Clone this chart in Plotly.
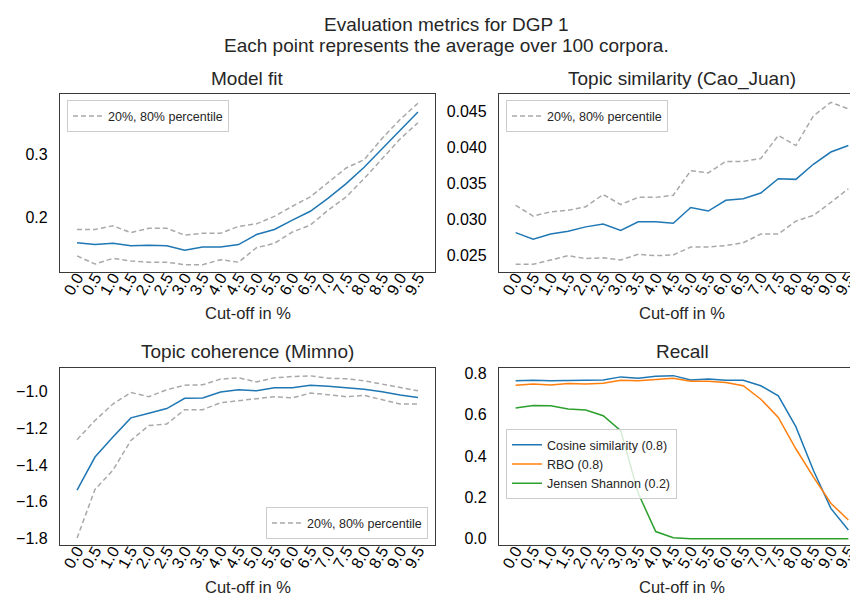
import plotly.graph_objects as go

cutoffs = ["0.0","0.5","1.0","1.5","2.0","2.5","3.0","3.5","4.0","4.5",
           "5.0","5.5","6.0","6.5","7.0","7.5","8.0","8.5","9.0","9.5"]

fit_mean = [0.159,0.156,0.158,0.154,0.155,0.154,0.147,0.152,0.152,0.156,
            0.172,0.180,0.195,0.209,0.230,0.253,0.279,0.308,0.338,0.367]
fit_p80 = [0.180,0.180,0.186,0.175,0.182,0.182,0.171,0.174,0.174,0.185,
           0.189,0.201,0.217,0.232,0.255,0.278,0.291,0.325,0.355,0.381]
fit_p20 = [0.138,0.125,0.134,0.130,0.128,0.128,0.124,0.124,0.132,0.128,
           0.151,0.158,0.176,0.187,0.211,0.232,0.261,0.292,0.324,0.350]

sim_mean = [0.0281,0.0272,0.0279,0.0283,0.0289,0.0293,0.0284,0.0296,0.0296,0.0294,
            0.0316,0.0311,0.0326,0.0328,0.0336,0.0356,0.0355,0.0376,0.0393,0.0402]
sim_p80 = [0.0319,0.0304,0.0310,0.0312,0.0317,0.0334,0.0320,0.0330,0.0330,0.0333,
           0.0367,0.0364,0.0380,0.0380,0.0384,0.0416,0.0402,0.0443,0.0462,0.0453]
sim_p20 = [0.0237,0.0237,0.0243,0.0249,0.0245,0.0246,0.0243,0.0251,0.0249,0.0250,
           0.0261,0.0261,0.0263,0.0267,0.0279,0.0279,0.0297,0.0305,0.0323,0.0342]

coh_mean = [-1.538,-1.357,-1.248,-1.143,-1.118,-1.092,-1.036,-1.034,-1.002,-0.989,
            -0.995,-0.978,-0.978,-0.964,-0.970,-0.978,-0.986,-1.000,-1.018,-1.031]
coh_p80 = [-1.262,-1.157,-1.067,-1.004,-1.027,-0.989,-0.964,-0.962,-0.931,-0.924,
           -0.946,-0.924,-0.917,-0.913,-0.926,-0.929,-0.940,-0.958,-0.976,-0.995]
coh_p20 = [-1.800,-1.534,-1.429,-1.266,-1.185,-1.176,-1.098,-1.098,-1.060,-1.049,
           -1.040,-1.027,-1.034,-1.007,-1.016,-1.027,-1.020,-1.045,-1.067,-1.067]

rec_cos = [0.765,0.768,0.765,0.768,0.768,0.769,0.784,0.777,0.787,0.790,
           0.769,0.774,0.768,0.768,0.741,0.692,0.543,0.332,0.147,0.043]
rec_rbo = [0.744,0.750,0.745,0.752,0.749,0.753,0.768,0.765,0.771,0.777,
           0.763,0.763,0.757,0.741,0.676,0.588,0.436,0.300,0.172,0.091]
rec_js = [0.633,0.646,0.644,0.628,0.624,0.596,0.524,0.220,0.035,0.005,
          0.0,0.0,0.0,0.0,0.0,0.0,0.0,0.0,0.0,0.0]

idx = list(range(len(cutoffs)))
BLUE, ORANGE, GREEN, GREY = "#1f77b4", "#ff7f0e", "#2ca02c", "#a9a9a9"
FONT = "Liberation Sans, Arial, sans-serif"
TXT = "#262626"

fig = go.Figure()

def add(y, ax, color, dash="solid", name=None, legend=None, show=False):
    fig.add_trace(go.Scatter(
        x=idx, y=y, mode="lines", xaxis="x" + ax, yaxis="y" + ax,
        line=dict(color=color, width=1.5, dash=("5px,3px" if dash == "dash" else "solid")),
        name=name or "", showlegend=show, legend=legend, hoverinfo="skip"))

# subplot 1
add(fit_mean, "", BLUE)
add(fit_p20, "", GREY, "dash", "20%, 80% percentile", "legend", True)
add(fit_p80, "", GREY, "dash")
# subplot 2
add(sim_mean, "2", BLUE)
add(sim_p20, "2", GREY, "dash", "20%, 80% percentile", "legend2", True)
add(sim_p80, "2", GREY, "dash")
# subplot 3
add(coh_mean, "3", BLUE)
add(coh_p20, "3", GREY, "dash", "20%, 80% percentile", "legend3", True)
add(coh_p80, "3", GREY, "dash")
# subplot 4
add(rec_cos, "4", BLUE, name="Cosine similarity (0.8)", legend="legend4", show=True)
add(rec_rbo, "4", ORANGE, name="RBO (0.8)", legend="legend4", show=True)
add(rec_js, "4", GREEN, name="Jensen Shannon (0.2)", legend="legend4", show=True)

W, H = 858, 599
def dx(a, b): return [a / W, b / W]
def dy(top, bot): return [1 - bot / H, 1 - top / H]

xdom = {"": dx(52, 427), "2": dx(491, 857), "3": dx(52, 427), "4": dx(491, 857)}
ydom = {"": dy(85, 264), "2": dy(85, 264), "3": dy(360, 539), "4": dy(360, 539)}
yranges = {"": [0.112, 0.395], "2": [0.0226, 0.0473], "3": [-1.840, -0.868], "4": [-0.032, 0.829]}
ytick = {"": dict(tickvals=[0.2, 0.3], ticktext=["0.2", "0.3"]),
         "2": dict(tickvals=[0.025, 0.03, 0.035, 0.04, 0.045],
                   ticktext=["0.025", "0.030", "0.035", "0.040", "0.045"]),
         "3": dict(tickvals=[-1.8, -1.6, -1.4, -1.2, -1.0],
                   ticktext=["\u22121.8", "\u22121.6", "\u22121.4", "\u22121.2", "\u22121.0"]),
         "4": dict(tickvals=[0, 0.2, 0.4, 0.6, 0.8], ticktext=["0.0", "0.2", "0.4", "0.6", "0.8"])}

TICKF = dict(family=FONT, size=16, color="black")
axstyle = dict(showline=True, mirror=True, linecolor="#3a3a3a", linewidth=1.25,
               showgrid=False, zeroline=False, ticks="", tickfont=TICKF)
lay = {}
label_ax = {"": "5", "2": "6", "3": "7", "4": "8"}
for ax in ["", "2", "3", "4"]:
    lay["xaxis" + ax] = dict(axstyle, domain=xdom[ax], anchor="y" + ax,
                             range=[-0.95, 19.95], tickvals=idx, showticklabels=False)
    lay["yaxis" + ax] = dict(axstyle, domain=ydom[ax], anchor="x" + ax,
                             range=yranges[ax], ticklabelstandoff=8, **ytick[ax])
    # tick-label axis drawn slightly closer to the frame
    lab = label_ax[ax]
    lay["xaxis" + lab] = dict(
        overlaying="x" + ax, anchor="free", position=ydom[ax][0] + 8 / H,
        range=[-0.95, 19.95], tickvals=idx, ticktext=cutoffs, tickangle=-60,
        showline=False, showgrid=False, zeroline=False, ticks="", tickfont=TICKF)
    fig.add_trace(go.Scatter(x=idx, y=[None] * len(idx), mode="lines",
                             xaxis="x" + lab, yaxis="y" + ax,
                             showlegend=False, hoverinfo="skip"))

leg = dict(bgcolor="rgba(255,255,255,0.8)", bordercolor="#cccccc", borderwidth=1,
           font=dict(family=FONT, size=12.5, color=TXT), itemwidth=30,
           tracegroupgap=0)
lay["legend"] = dict(leg, x=59 / W, y=1 - 91 / H, xanchor="left", yanchor="top")
lay["legend2"] = dict(leg, x=498 / W, y=1 - 91 / H, xanchor="left", yanchor="top")
lay["legend3"] = dict(leg, x=420 / W, y=1 - 533 / H, xanchor="right", yanchor="bottom")
lay["legend4"] = dict(leg, x=498 / W, y=1 - 422 / H, xanchor="left", yanchor="top")

TF = dict(family=FONT, size=19, color=TXT)
AF = dict(family=FONT, size=16.5, color=TXT)
annots = [
    dict(text="Evaluation metrics for DGP 1", x=438 / W, y=1 - 15 / H, font=TF),
    dict(text="Each point represents the average over 100 corpora.", x=438 / W, y=1 - 36 / H, font=TF),
    dict(text="Model fit", x=(52 + 427) / 2 / W, y=1 - 69 / H, font=TF),
    dict(text="Topic similarity (Cao_Juan)", x=(491 + 857) / 2 / W, y=1 - 69 / H, font=TF),
    dict(text="Topic coherence (Mimno)", x=(52 + 427) / 2 / W, y=1 - 344 / H, font=TF),
    dict(text="Recall", x=(491 + 857) / 2 / W, y=1 - 344 / H, font=TF),
    dict(text="Cut-off in %", x=(52 + 427) / 2 / W, y=1 - 305 / H, font=AF),
    dict(text="Cut-off in %", x=(491 + 857) / 2 / W, y=1 - 305 / H, font=AF),
    dict(text="Cut-off in %", x=(52 + 427) / 2 / W, y=1 - 581 / H, font=AF),
    dict(text="Cut-off in %", x=(491 + 857) / 2 / W, y=1 - 581 / H, font=AF),
]
for a in annots:
    a.update(xref="paper", yref="paper", xanchor="center", yanchor="middle",
             showarrow=False)

fig.update_layout(width=W, height=H, margin=dict(l=0, r=0, t=0, b=0),
                  plot_bgcolor="white", paper_bgcolor="white",
                  annotations=annots, **lay)
fig.write_html("out.html")
